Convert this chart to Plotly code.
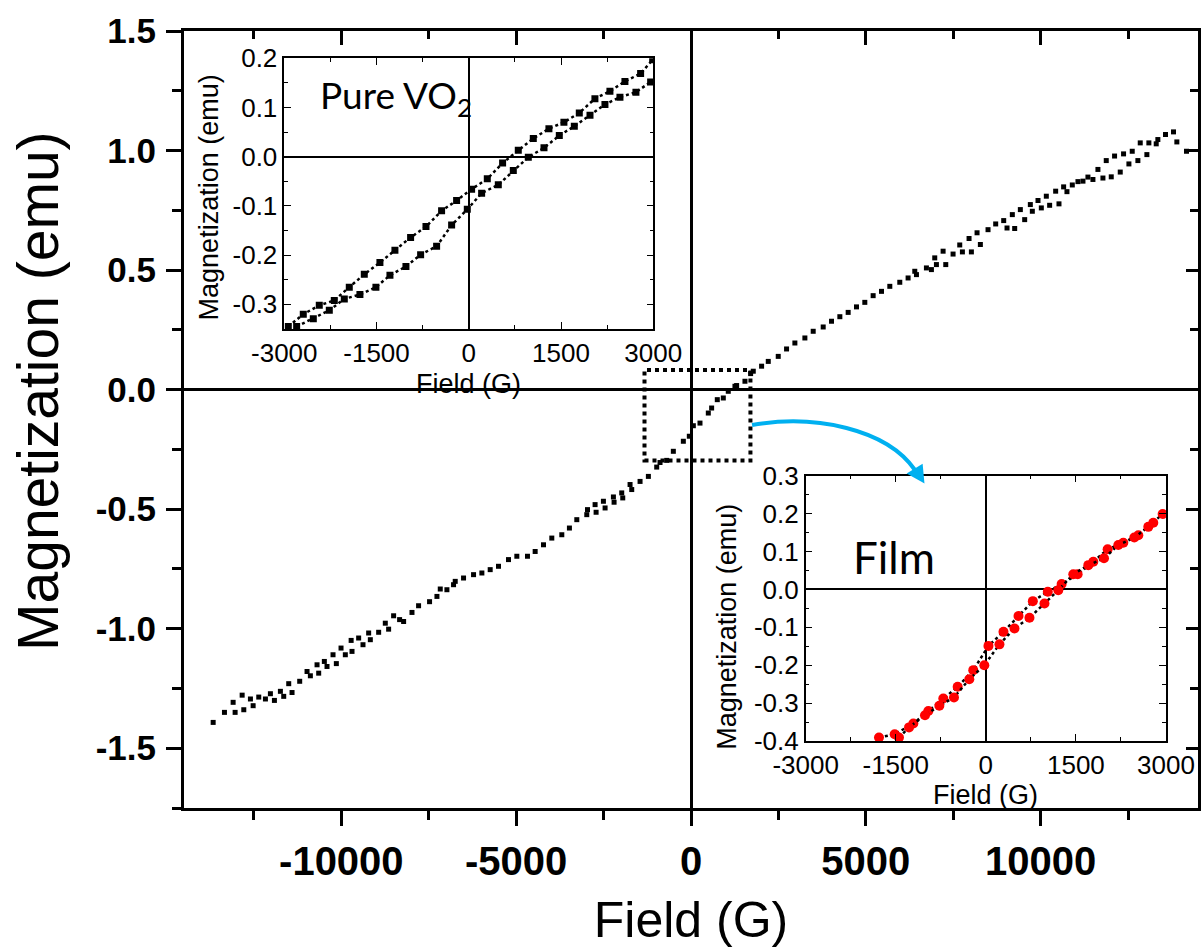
import plotly.graph_objects as go

# ---------------- data ----------------
# Main M-H loop (Field in G, Magnetization in emu)
main_field = [-13666, -13343, -13095, -13038, -12837, -12790, -12600, -12523, -12362, -12171,
              -12029, -11914, -11743, -11648, -11505, -11410, -11191, -10981, -10886, -10695,
              -10648, -10486, -10410, -10238, -10143, -10009, -9886, -9720, -9695, -9505,
              -9381, -9219, -9171, -8933, -8743, -8648, -8505, -8334, -8219, -7980,
              -7791, -7477, -7266, -7171, -6981, -6791, -6743, -6505, -6219, -5981,
              -5743, -5505, -5219, -4981, -4677, -4457, -4219, -3981, -3695, -3477,
              -3266, -2981, -2960, -2743, -2714, -2505, -2457, -2219, -2200, -1981,
              -1952, -1743, -1695, -1457, -1219, -981, -886, -695, -505, -219,
              -48, 67, 257, 495, 590, 752, 924, 1066, 1257, 1305,
              1543, 1705, 1781, 2019, 2210, 2495, 2733, 2971, 3257, 3495,
              3781, 4019, 4257, 4495, 4733, 4971, 5209, 5448, 5686, 5971,
              6209, 6400, 6448, 6733, 6876, 6971, 7019, 7210, 7286, 7495,
              7686, 7762, 7952, 8019, 8181, 8276, 8495, 8714, 8943, 9038,
              9190, 9257, 9419, 9543, 9705, 9762, 9924, 10019, 10162, 10257,
              10429, 10524, 10657, 10752, 10905, 11067, 11210, 11352, 11495, 11638,
              11781, 11876, 12019, 12114, 12276, 12371, 12524, 12619, 12781, 12848,
              13038, 13095, 13305, 13352, 13571, 13800, 13895, 14171]
main_mag = [-1.392, -1.350, -1.308, -1.350, -1.278, -1.339, -1.294, -1.322, -1.286, -1.294,
            -1.272, -1.300, -1.262, -1.283, -1.230, -1.267, -1.220, -1.179, -1.197, -1.151,
            -1.186, -1.137, -1.158, -1.109, -1.146, -1.081, -1.109, -1.049, -1.095, -1.039,
            -1.067, -1.018, -1.046, -1.015, -0.977, -1.002, -0.946, -0.962, -0.970, -0.932,
            -0.904, -0.887, -0.865, -0.834, -0.837, -0.816, -0.802, -0.788, -0.774, -0.767,
            -0.753, -0.739, -0.711, -0.697, -0.697, -0.677, -0.649, -0.621, -0.607, -0.579,
            -0.544, -0.523, -0.502, -0.481, -0.513, -0.467, -0.495, -0.449, -0.471, -0.432,
            -0.453, -0.397, -0.418, -0.384, -0.363, -0.324, -0.305, -0.296, -0.258, -0.216,
            -0.195, -0.151, -0.140, -0.098, -0.077, -0.042, -0.035, -0.007, 0.014, 0.017,
            0.035, 0.067, 0.077, 0.098, 0.118, 0.139, 0.170, 0.195, 0.216, 0.244,
            0.262, 0.286, 0.305, 0.323, 0.346, 0.365, 0.393, 0.411, 0.432, 0.449,
            0.467, 0.495, 0.481, 0.509, 0.502, 0.551, 0.523, 0.579, 0.523, 0.567,
            0.605, 0.576, 0.632, 0.576, 0.656, 0.607, 0.669, 0.693, 0.707, 0.676,
            0.732, 0.674, 0.753, 0.711, 0.774, 0.746, 0.791, 0.760, 0.809, 0.771,
            0.830, 0.777, 0.848, 0.828, 0.856, 0.870, 0.872, 0.889, 0.879, 0.921,
            0.885, 0.958, 0.890, 0.977, 0.910, 0.986, 0.944, 0.997, 0.958, 1.032,
            0.983, 1.032, 1.028, 1.046, 1.067, 1.078, 1.036, 0.997]

# Inset 1: Pure VO2, two branches
vo2_upper_field = [-2935, -2691, -2431, -2187, -1943, -1699, -1445, -1201, -946, -696,
                   -442, -198, 46, 301, 550, 805, 1049, 1303, 1547, 1797,
                   2051, 2295, 2539, 2794, 2990]
vo2_upper_mag = [-0.345, -0.320, -0.302, -0.292, -0.265, -0.239, -0.215, -0.190, -0.164, -0.142,
                 -0.110, -0.089, -0.066, -0.045, -0.013, 0.013, 0.037, 0.057, 0.070, 0.089,
                 0.118, 0.133, 0.153, 0.169, 0.197]
vo2_lower_field = [-2799, -2528, -2268, -2024, -1770, -1510, -1282, -1022, -783, -523,
                   -279, -24, 209, 480, 724, 968, 1223, 1472, 1716, 1971,
                   2214, 2458, 2718, 2957]
vo2_lower_mag = [-0.345, -0.329, -0.312, -0.289, -0.280, -0.265, -0.241, -0.223, -0.199, -0.182,
                 -0.139, -0.107, -0.074, -0.057, -0.028, -0.001, 0.018, 0.043, 0.062, 0.084,
                 0.106, 0.121, 0.131, 0.152]

# Inset 2: Film, two branches
film_upper_field = [-1779, -1518, -1207, -957, -708, -469, -209, 44, 294, 544,
                    783, 1032, 1263, 1529, 1790, 2029, 2290, 2540, 2789, 2945]
film_upper_mag = [-0.391, -0.382, -0.354, -0.321, -0.288, -0.257, -0.213, -0.149, -0.112, -0.070,
                  -0.031, -0.006, 0.014, 0.040, 0.073, 0.106, 0.123, 0.143, 0.176, 0.199]
film_lower_field = [-1446, -1279, -1013, -774, -530, -275, -25, 227, 477, 727,
                    977, 1207, 1457, 1707, 1968, 2207, 2473, 2706]
film_lower_mag = [-0.391, -0.364, -0.332, -0.307, -0.285, -0.237, -0.200, -0.145, -0.103, -0.075,
                  -0.037, -0.002, 0.040, 0.064, 0.082, 0.117, 0.137, 0.165]

# Tick values / labels
main_xticks = [-10000, -5000, 0, 5000, 10000]
main_xlabels = ["-10000", "-5000", "0", "5000", "10000"]
main_yticks = [-1.5, -1.0, -0.5, 0.0, 0.5, 1.0, 1.5]
main_ylabels = ["-1.5", "-1.0", "-0.5", "0.0", "0.5", "1.0", "1.5"]
inset_xticks = [-3000, -1500, 0, 1500, 3000]
inset_xlabels = ["-3000", "-1500", "0", "1500", "3000"]
vo2_yticks = [-0.3, -0.2, -0.1, 0.0, 0.1, 0.2]
vo2_ylabels = ["-0.3", "-0.2", "-0.1", "0.0", "0.1", "0.2"]
film_yticks = [-0.4, -0.3, -0.2, -0.1, 0.0, 0.1, 0.2, 0.3]
film_ylabels = ["-0.4", "-0.3", "-0.2", "-0.1", "0.0", "0.1", "0.2", "0.3"]

FONT = "Liberation Sans, Arial, sans-serif"
TEXTFONT = "Lato, Open Sans, sans-serif"

fig = go.Figure()

fig.add_trace(go.Scatter(x=main_field, y=main_mag, mode="markers", xaxis="x", yaxis="y",
                         marker=dict(symbol="square", size=5, color="black"),
                         showlegend=False))
# placeholder for the mirrored (inward) tick axes
fig.add_trace(go.Scatter(x=[None], y=[None], xaxis="x4", yaxis="y4", showlegend=False,
                         hoverinfo="skip"))

for fx, fy in [(vo2_upper_field, vo2_upper_mag), (vo2_lower_field, vo2_lower_mag)]:
    fig.add_trace(go.Scatter(x=fx, y=fy, mode="lines+markers", xaxis="x2", yaxis="y2",
                             line=dict(color="black", width=2.5, dash="dot"),
                             marker=dict(symbol="square", size=7, color="black"),
                             showlegend=False))

for fx, fy in [(film_upper_field, film_upper_mag), (film_lower_field, film_lower_mag)]:
    fig.add_trace(go.Scatter(x=fx, y=fy, mode="lines+markers", xaxis="x3", yaxis="y3",
                             line=dict(color="black", width=2.5, dash="dot"),
                             marker=dict(symbol="circle", size=10, color="#FF0000"),
                             showlegend=False))

XR = [-14500, 14500]
YR = [-1.75, 1.5]

main_common = dict(showgrid=False, showline=True, linecolor="black", linewidth=3, mirror=True,
                   ticks="outside", ticklen=15, tickwidth=3, tickcolor="black",
                   zeroline=True, zerolinecolor="black", zerolinewidth=3,
                   tickmode="array", automargin=False)

inset_common = dict(showgrid=False, showline=True, linecolor="black", linewidth=1.5,
                    mirror="ticks", ticks="inside", ticklen=7, tickwidth=1.2, tickcolor="black",
                    zeroline=True, zerolinecolor="black", zerolinewidth=1.5,
                    tickmode="array", automargin=False, ticklabelstandoff=0,
                    tickfont=dict(family=FONT, size=26, color="black"))

fig.update_layout(
    width=1202, height=948,
    margin=dict(l=184, r=4, t=31, b=140, autoexpand=False),
    paper_bgcolor="white", plot_bgcolor="white",
    font=dict(family=FONT, color="black"),
    xaxis=dict(**main_common, range=XR, domain=[0, 1], anchor="y",
               tickvals=main_xticks, ticktext=main_xlabels,
               tickfont=dict(family=FONT, size=40, color="black", weight="bold"),
               ticklabelstandoff=1,
               minor=dict(tickmode="linear", tick0=0, dtick=2500, ticks="outside",
                          ticklen=9, tickwidth=3, tickcolor="black"),
               title=dict(text="Field (G)", font=dict(family=FONT, size=50, color="black"),
                          standoff=22)),
    yaxis=dict(**main_common, range=YR, domain=[0, 1], anchor="x",
               tickvals=main_yticks, ticktext=main_ylabels,
               tickfont=dict(family=FONT, size=35, color="black", weight="bold"),
               ticklabelstandoff=3,
               minor=dict(tickmode="linear", tick0=0, dtick=0.25, ticks="outside",
                          ticklen=9, tickwidth=3, tickcolor="black")),
    xaxis4=dict(overlaying="x", side="top", anchor="y4", range=XR, showgrid=False,
                zeroline=False, showline=False, showticklabels=False, automargin=False,
                ticks="inside", ticklen=14, tickwidth=3, tickcolor="black",
                tickmode="array", tickvals=main_xticks,
                minor=dict(tickmode="linear", tick0=0, dtick=2500, ticks="inside",
                           ticklen=8, tickwidth=3, tickcolor="black")),
    yaxis4=dict(overlaying="y", side="right", anchor="x4", range=YR, showgrid=False,
                zeroline=False, showline=False, showticklabels=False, automargin=False,
                ticks="inside", ticklen=12, tickwidth=3, tickcolor="black",
                tickmode="array", tickvals=main_yticks,
                minor=dict(tickmode="linear", tick0=0, dtick=0.25, ticks="inside",
                           ticklen=8, tickwidth=3, tickcolor="black")),
    # Inset 1: Pure VO2
    xaxis2=dict(**inset_common, domain=[0.0989, 0.4628], anchor="y2", range=[-3000, 3000],
                tickvals=inset_xticks, ticktext=inset_xlabels,
                minor=dict(tickmode="linear", tick0=0, dtick=750, ticks="inside",
                           ticklen=4, tickwidth=1, tickcolor="black")),
    yaxis2=dict(**inset_common, domain=[0.6165, 0.9649], anchor="x2", range=[-0.35, 0.2],
                tickvals=vo2_yticks, ticktext=vo2_ylabels,
                minor=dict(tickmode="linear", tick0=0, dtick=0.05, ticks="inside",
                           ticklen=4, tickwidth=1, tickcolor="black")),
    # Inset 2: Film
    xaxis3=dict(**inset_common, domain=[0.6131, 0.9684], anchor="y3", range=[-3000, 3000],
                tickvals=inset_xticks, ticktext=inset_xlabels,
                minor=dict(tickmode="linear", tick0=0, dtick=750, ticks="inside",
                           ticklen=4, tickwidth=1, tickcolor="black")),
    yaxis3=dict(**inset_common, domain=[0.0862, 0.4277], anchor="x3", range=[-0.4, 0.3],
                tickvals=film_yticks, ticktext=film_ylabels,
                minor=dict(tickmode="linear", tick0=0, dtick=0.05, ticks="inside",
                           ticklen=4, tickwidth=1, tickcolor="black")),
)

# main y-axis title (placed as in the reference, slightly above the axis centre)
fig.add_annotation(x=-0.144, y=0.5367, xref="paper", yref="paper", textangle=-90,
                   text="Magnetization (emu)", showarrow=False, xanchor="center",
                   yanchor="middle", font=dict(family=FONT, size=57, color="black"))

# inset axis titles (placed relative to each inset's axes)
inset_title_font = dict(family=FONT, size=27, color="black")
for xa, ya, xfrac_title, yfrac_title, xfrac_ytitle, yfrac_ytitle in [
        ("x2", "y2", 0.5, -0.205, -0.204, 0.486),
        ("x3", "y3", 0.5, -0.203, -0.218, 0.431)]:
    fig.add_annotation(x=xfrac_title, y=yfrac_title, xref=f"{xa} domain", yref=f"{ya} domain",
                       text="Field (G)", showarrow=False, xanchor="center", yanchor="middle",
                       font=inset_title_font)
    fig.add_annotation(x=xfrac_ytitle, y=yfrac_ytitle, xref=f"{xa} domain", yref=f"{ya} domain",
                       text="Magnetization (emu)", showarrow=False, textangle=-90,
                       xanchor="center", yanchor="middle", font=inset_title_font)

# dotted zoom rectangle (data coordinates of main plot)
fig.add_shape(type="rect", xref="x", yref="y", x0=-1330, x1=1700, y0=-0.297, y1=0.082,
              line=dict(color="black", width=4, dash="dot"), layer="above")

# blue curved arrow
fig.add_shape(type="path", xref="paper", yref="paper",
              path="M 0.5602,0.4929 C 0.6223,0.5071 0.6928,0.4878 0.7209,0.4350",
              line=dict(color="#00B0F0", width=4), layer="above")
fig.add_shape(type="path", xref="paper", yref="paper",
              path="M 0.7291,0.4200 L 0.7146,0.4306 L 0.7276,0.4409 Z",
              line=dict(color="#00B0F0", width=2), fillcolor="#00B0F0", layer="above")

# inset labels
fig.add_annotation(x=-2450, y=0.12, xref="x2", yref="y2", xanchor="left", yanchor="middle",
                   text="Pure VO<sub>2</sub>", showarrow=False,
                   font=dict(family=TEXTFONT, size=37, color="black"))
fig.add_annotation(x=-2250, y=0.085, xref="x3", yref="y3", xanchor="left", yanchor="middle",
                   text="Film", showarrow=False,
                   font=dict(family=TEXTFONT, size=44, color="black"))

fig.write_html("out.html")
